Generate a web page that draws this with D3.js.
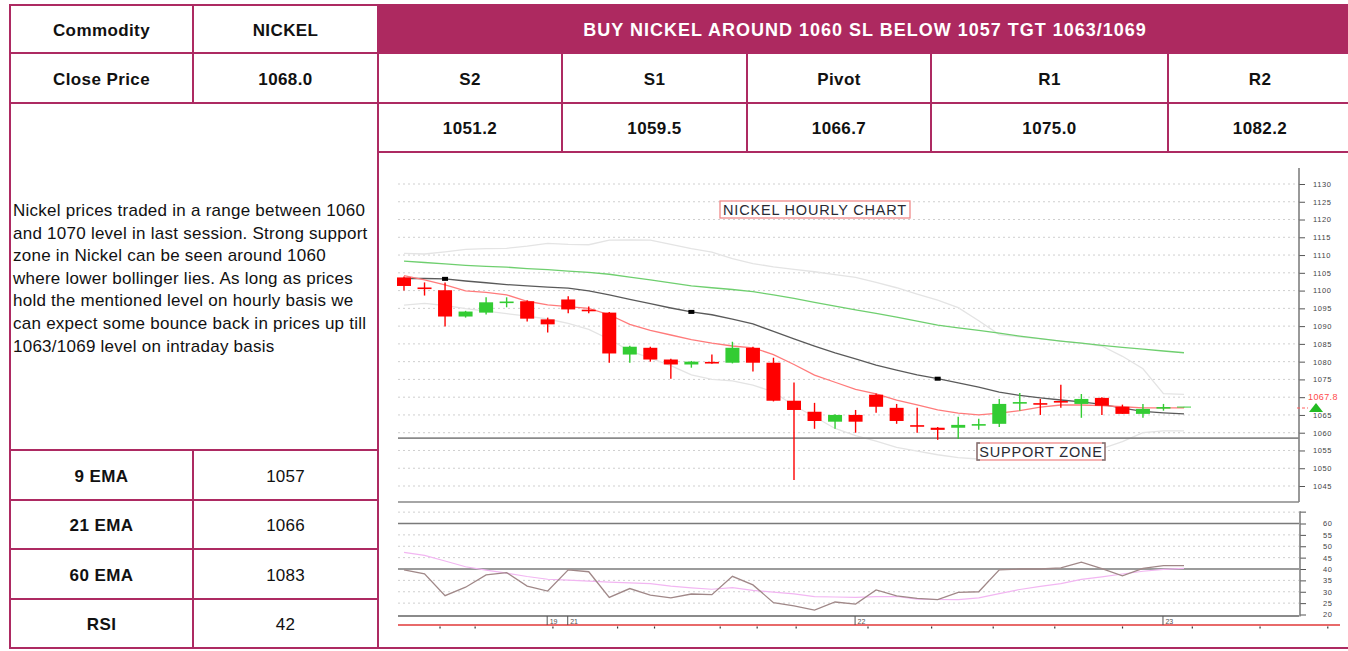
<!DOCTYPE html>
<html><head><meta charset="utf-8">
<script src="https://cdn.jsdelivr.net/npm/d3@7"></script>
<style>
body{margin:0;background:#fff;}
svg{display:block;}
text{font-family:"Liberation Sans",Arial,sans-serif;}
</style>
</head><body>
<script>
// ---------- Table content ----------
const headerLabels = ["Commodity", "NICKEL"];
const closeLabels = ["Close Price", "1068.0"];
const tradeCall = "BUY NICKEL AROUND 1060 SL BELOW 1057 TGT 1063/1069";
const pivotLabels = ["S2", "S1", "Pivot", "R1", "R2"];
const pivotValues = ["1051.2", "1059.5", "1066.7", "1075.0", "1082.2"];
const emaLabels = ["9 EMA", "21 EMA", "60 EMA", "RSI"];
const emaValues = ["1057", "1066", "1083", "42"];
const commentary = [
  "Nickel prices traded in a range between 1060",
  "and 1070 level in last session. Strong support",
  "zone in Nickel can be seen around 1060",
  "where lower bollinger lies. As long as prices",
  "hold the mentioned level on hourly basis we",
  "can expect some bounce back in prices up till",
  "1063/1069 level on intraday basis"
];

// ---------- Hourly candles ----------
const candleOpen  = [1103.7,1100.8,1100.1,1092.7,1093.8,1096.6,1097.0,1091.9,1097.5,1094.5,1093.8,1082.0,1083.9,1080.6,1079.2,1079.8,1079.7,1083.9,1079.7,1069.0,1065.9,1063.1,1065.0,1070.7,1067.0,1062.0,1061.4,1061.4,1062.1,1062.5,1068.3,1068.2,1068.8,1068.1,1069.8,1067.3,1065.3,1066.9,1067.1];
const candleHigh  = [1104.0,1102.3,1102.3,1094.3,1098.1,1098.1,1097.3,1092.4,1098.4,1095.5,1094.0,1084.5,1084.2,1080.8,1080.2,1082.0,1085.6,1084.2,1081.1,1074.1,1068.4,1065.2,1066.4,1071.0,1068.1,1067.0,1061.6,1064.5,1063.9,1069.5,1071.2,1069.5,1073.5,1070.9,1070.0,1067.9,1068.1,1068.1,1067.3];
const candleLow   = [1100.0,1098.6,1089.9,1092.4,1093.3,1095.3,1091.3,1088.2,1093.6,1093.6,1079.7,1079.7,1080.0,1075.2,1078.3,1079.4,1079.5,1077.2,1068.8,1046.7,1061.1,1061.1,1060.0,1065.6,1062.5,1060.0,1058.0,1058.2,1060.8,1061.6,1066.2,1065.0,1067.0,1064.2,1065.0,1065.3,1064.2,1066.2,1067.1];
const candleClose = [1101.3,1100.5,1092.7,1094.1,1096.7,1096.8,1092.1,1090.5,1094.7,1094.3,1082.3,1084.2,1080.6,1079.2,1080.0,1079.6,1083.9,1079.7,1069.0,1066.4,1063.3,1065.0,1063.1,1067.3,1063.3,1061.8,1060.8,1062.2,1062.3,1068.1,1068.5,1068.0,1068.6,1069.5,1067.6,1065.3,1066.7,1067.1,1067.3];

// ---------- Overlays ----------
const emaFast = [1104.2,1103.0,1101.6,1099.9,1099.5,1098.8,1097.0,1096.0,1095.5,1095.0,1093.2,1090.5,1088.8,1087.5,1086.2,1085.2,1084.4,1083.9,1082.0,1079.2,1076.2,1074.2,1072.2,1070.9,1069.2,1067.8,1066.4,1065.5,1065.0,1065.5,1066.2,1067.2,1067.8,1067.8,1067.6,1067.3,1067.0,1067.0,1067.0];
const emaMid  = [1103.4,1103.4,1103.3,1102.7,1102.2,1101.7,1101.3,1101.0,1100.7,1099.9,1098.8,1097.5,1096.3,1095.1,1094.0,1093.2,1092.0,1090.6,1088.5,1086.4,1084.4,1082.5,1080.8,1079.0,1077.6,1076.3,1075.2,1074.0,1072.8,1071.4,1070.5,1069.8,1069.2,1068.7,1068.0,1066.9,1066.0,1065.6,1065.3];
const emaSlow = [1108.3,1107.9,1107.5,1107.1,1106.8,1106.6,1106.2,1105.9,1105.5,1105.1,1104.6,1103.8,1103.0,1102.2,1101.3,1100.8,1100.3,1099.7,1098.8,1097.8,1096.7,1095.6,1094.6,1093.6,1092.5,1091.4,1090.3,1089.5,1088.8,1088.0,1087.2,1086.5,1085.8,1085.2,1084.6,1084.0,1083.5,1083.0,1082.5];
const bbUpper = [1110.5,1110.3,1110.9,1111.6,1111.8,1111.9,1112.5,1113.3,1113.0,1112.9,1114.2,1114.3,1114.2,1113.0,1111.8,1110.8,1109.0,1107.6,1106.7,1106.0,1105.3,1104.5,1103.7,1102.3,1100.8,1099.0,1097.3,1095.2,1091.5,1087.6,1087.0,1086.4,1085.8,1085.2,1084.4,1081.5,1078.0,1071.0,1070.8];
const bbLower = [1095.9,1096.4,1095.8,1094.9,1094.2,1093.5,1092.8,1092.0,1090.8,1089.1,1086.3,1083.0,1081.0,1078.9,1076.3,1075.0,1074.6,1073.4,1071.5,1067.6,1064.5,1061.2,1059.2,1057.6,1055.9,1054.8,1053.8,1053.0,1052.6,1052.6,1052.8,1053.2,1053.6,1054.4,1055.5,1057.5,1060.0,1060.5,1060.5];
const dayMarkers = [2, 14, 26];
const supportLevel = 1058.5;
const lastPrice = 1067.8;

// ---------- RSI ----------
const rsiValues = [39.6,37.9,28.3,32.0,37.4,38.4,32.5,30.3,39.6,38.8,27.5,31.4,28.5,27.3,29.0,28.7,36.8,33.0,25.2,23.8,21.9,25.5,24.6,30.8,28.2,27.1,26.5,29.7,30.0,39.6,40.0,40.0,40.5,43.0,40.2,37.0,40.3,41.5,41.5];
const rsiAvg    = [47.3,46.0,43.5,41.0,39.5,38.2,36.7,35.5,35.1,34.7,34.2,33.9,33.6,32.5,31.7,31.1,31.8,30.6,29.8,29.1,27.9,27.7,27.5,27.9,27.9,26.8,26.6,26.5,27.3,29.2,31.0,32.4,33.6,35.4,36.5,37.8,39.0,39.8,40.3];

// ---------- Axes ----------
const priceTicks = [1045,1050,1055,1060,1065,1070,1075,1080,1085,1090,1095,1100,1105,1110,1115,1120,1125,1130];
const hiddenPriceLabel = 1070; // covered by the last-price tag in the reference
const rsiTicks = [20,25,30,35,40,45,50,55,60];
const rsiLevels = [40, 60];
const dayIndex = [7, 8, 22, 37];
const dayLabels = ["19", "21", "22", "23"];
const hourTicks = [1.75,3.46,7.25,10.4,12.2,15.4,17.2,19.1,22.6,25.7,28.7,31.7,35.0,38.4,41.7,45.0];

// ================= Drawing =================
const W = 1348, H = 651;
const svg = d3.select("body").append("svg").attr("width", W).attr("height", H);
svg.append("rect").attr("width", W).attr("height", H).attr("fill", "#fff");

const BC = "#ad2a62";
const PINK = "#ad2960";

svg.append("rect").attr("x", 378).attr("y", 4).attr("width", W - 378).attr("height", 49).attr("fill", PINK);

function hline(x1, x2, yy) {
  svg.append("line").attr("x1", x1).attr("x2", x2).attr("y1", yy).attr("y2", yy)
    .attr("stroke", BC).attr("stroke-width", 2);
}
function vline(xx, y1, y2) {
  svg.append("line").attr("x1", xx).attr("x2", xx).attr("y1", y1).attr("y2", y2)
    .attr("stroke", BC).attr("stroke-width", 2);
}
hline(10, 378, 5);
hline(10, W, 53);
hline(10, W, 103);
hline(378, W, 152);
[450, 500, 549, 599].forEach(v => hline(10, 378, v));
hline(10, W, 648);
vline(10, 4, 649);
vline(193, 4, 103);
vline(193, 450, 649);
vline(378, 4, 649);
[562, 747, 931, 1168].forEach(v => vline(v, 53, 152));

function cellText(txt, cx, cy, opts = {}) {
  svg.append("text").attr("x", cx).attr("y", cy)
    .attr("text-anchor", "middle").attr("dominant-baseline", "central")
    .attr("font-size", opts.size || 17)
    .attr("font-weight", opts.weight || "bold")
    .attr("letter-spacing", opts.ls !== undefined ? opts.ls : 0.4)
    .attr("fill", opts.fill || "#111")
    .text(txt);
}
cellText(headerLabels[0], 101.5, 30);
cellText(headerLabels[1], 285.5, 30);
cellText(closeLabels[0], 101.5, 79);
cellText(closeLabels[1], 285.5, 79);
cellText(tradeCall, 865, 30, {size: 18, fill: "#fff", ls: 1.0});

const pivotEdges = [378, 562, 747, 931, 1168, 1352];
pivotLabels.forEach((t, i) => {
  const cx = (pivotEdges[i] + pivotEdges[i + 1]) / 2;
  cellText(t, cx, 79);
  cellText(pivotValues[i], cx, 128.5);
});
const emaRows = [450, 500, 549, 599, 648];
emaLabels.forEach((t, i) => {
  const cy = (emaRows[i] + emaRows[i + 1]) / 2 + 1;
  cellText(t, 101.5, cy);
  cellText(emaValues[i], 285.5, cy, {weight: "normal", ls: 0.2});
});

const para = svg.append("text").attr("font-size", 17).attr("letter-spacing", 0.25).attr("fill", "#111");
commentary.forEach((ln, i) => {
  para.append("tspan").attr("x", 13).attr("y", 216 + i * 22.6).text(ln);
});

// ---------- Chart ----------
const n = candleOpen.length;
const x = d3.scaleLinear().domain([0, n - 1]).range([404, 1184]);
const y = d3.scaleLinear().domain([1045, 1130]).range([486, 184]);
const yR = d3.scaleLinear().domain([20, 60]).range([614.5, 523.5]);
const L = 398, R = 1299;

const chart = svg.append("g");

chart.append("g").selectAll("line").data(priceTicks).join("line")
  .attr("x1", L).attr("x2", R).attr("y1", d => y(d)).attr("y2", d => y(d))
  .attr("stroke", "#cfcfcf").attr("stroke-width", 1).attr("stroke-dasharray", "2,3");

const axP = chart.append("g").attr("transform", `translate(${R},0)`)
  .call(d3.axisRight(y).tickValues(priceTicks).tickSize(6).tickPadding(8)
    .tickFormat(d => d === hiddenPriceLabel ? "" : d3.format("d")(d)));
axP.select(".domain").remove();
axP.selectAll(".tick line").attr("stroke", "#555");
axP.selectAll(".tick text").attr("font-size", 7.5).attr("fill", "#444").attr("letter-spacing", 0.6)
  .attr("font-family", "'Liberation Sans',Arial,sans-serif");
chart.append("line").attr("x1", R).attr("x2", R).attr("y1", 168).attr("y2", 502)
  .attr("stroke", "#777").attr("stroke-width", 1.5);
chart.append("line").attr("x1", L).attr("x2", R).attr("y1", 502).attr("y2", 502)
  .attr("stroke", "#888").attr("stroke-width", 1.5);

const lineGen = d3.line().x((d, i) => x(i)).y(d => y(d));
function drawLine(data, color, w) {
  chart.append("path").datum(data).attr("d", lineGen).attr("fill", "none")
    .attr("stroke", color).attr("stroke-width", w);
}
drawLine(bbUpper, "#e4e4e4", 1.3);
drawLine(bbLower, "#e4e4e4", 1.3);
drawLine(emaSlow, "#6fcf6f", 1.3);
drawLine(emaMid, "#5a5a5a", 1.3);
drawLine(emaFast, "#ff7b7b", 1.3);

chart.append("g").selectAll("rect").data(dayMarkers).join("rect")
  .attr("x", d => x(d) - 3).attr("y", d => y(emaMid[d]) - 2)
  .attr("width", 6).attr("height", 4).attr("fill", "#000");

chart.append("line").attr("x1", L).attr("x2", R).attr("y1", y(supportLevel)).attr("y2", y(supportLevel))
  .attr("stroke", "#8a8a8a").attr("stroke-width", 1.8);

const bw = 14;
const cg = chart.append("g");
d3.range(n).forEach(i => {
  const o = candleOpen[i], c = candleClose[i], h = candleHigh[i], l = candleLow[i];
  const col = c >= o ? "#33cc33" : "#ff0000";
  const op = i === n - 1 ? 0.6 : 1;
  cg.append("line").attr("x1", x(i)).attr("x2", x(i)).attr("y1", y(h)).attr("y2", y(l))
    .attr("stroke", col).attr("stroke-width", 1.4).attr("opacity", op);
  const top = y(Math.max(o, c)), bot = y(Math.min(o, c));
  const hh = Math.max(1.6, bot - top);
  cg.append("rect").attr("x", x(i) - bw / 2).attr("y", (top + bot) / 2 - hh / 2)
    .attr("width", bw).attr("height", hh).attr("fill", col).attr("opacity", op);
});

// last price tag
chart.append("line").attr("x1", 1297).attr("x2", 1308).attr("y1", y(lastPrice) + 3).attr("y2", y(lastPrice) + 3)
  .attr("stroke", "#ff6060").attr("stroke-width", 1.2).attr("stroke-dasharray", "3,2");
chart.append("text").attr("x", 1308).attr("y", y(lastPrice) - 8).attr("font-size", 9)
  .attr("letter-spacing", 0.4)
  .attr("fill", "#ff4a4a").attr("dominant-baseline", "central").text(lastPrice.toFixed(1));
chart.append("path")
  .attr("d", `M1309,${y(lastPrice) + 7} L1316,${y(lastPrice) - 2} L1323,${y(lastPrice) + 7} Z`)
  .attr("fill", "#22bb22");

function labelBox(txt, x0, y0, w, h, brackets) {
  const g = chart.append("g");
  g.append("rect").attr("x", x0).attr("y", y0).attr("width", w).attr("height", h)
    .attr("fill", "#fff").attr("stroke", "#f08a8a").attr("stroke-width", 1.3);
  if (brackets) {
    g.append("path").attr("d", `M${x0 + 3},${y0} L${x0},${y0} L${x0},${y0 + h} L${x0 + 3},${y0 + h}`)
      .attr("fill", "none").attr("stroke", "#777").attr("stroke-width", 1.3);
    g.append("path").attr("d", `M${x0 + w - 3},${y0} L${x0 + w},${y0} L${x0 + w},${y0 + h} L${x0 + w - 3},${y0 + h}`)
      .attr("fill", "none").attr("stroke", "#777").attr("stroke-width", 1.3);
  }
  g.append("text").attr("x", x0 + w / 2).attr("y", y0 + h / 2 + 0.5).attr("text-anchor", "middle")
    .attr("dominant-baseline", "central").attr("font-size", 14.5).attr("letter-spacing", 0.8)
    .attr("fill", "#2a2a33").text(txt);
}
labelBox("NICKEL HOURLY CHART", 720, 201, 190, 17, false);
labelBox("SUPPORT ZONE", 977, 443, 128, 17, true);

// ---------- RSI panel ----------
const rsiGrid = [25, 30, 35, 45, 50, 55, 65];
chart.append("g").selectAll("line").data(rsiGrid).join("line")
  .attr("x1", L).attr("x2", R).attr("y1", d => yR(d)).attr("y2", d => yR(d))
  .attr("stroke", "#cfcfcf").attr("stroke-width", 1).attr("stroke-dasharray", "2,3");
chart.append("g").selectAll("line").data(rsiLevels).join("line")
  .attr("x1", L).attr("x2", R).attr("y1", d => yR(d)).attr("y2", d => yR(d))
  .attr("stroke", "#7a7a7a").attr("stroke-width", 1.5);
chart.append("line").attr("x1", L).attr("x2", R).attr("y1", yR(20) + 1.5).attr("y2", yR(20) + 1.5)
  .attr("stroke", "#8a8a8a").attr("stroke-width", 2);

const axR = chart.append("g").attr("transform", `translate(${R + 1},0)`)
  .call(d3.axisRight(yR).tickValues(rsiTicks).tickSize(6).tickPadding(17).tickFormat(d3.format("d")));
axR.select(".domain").remove();
axR.selectAll(".tick line").attr("stroke", "#555");
axR.selectAll(".tick text").attr("font-size", 7.5).attr("fill", "#444").attr("letter-spacing", 0.6)
  .attr("font-family", "'Liberation Sans',Arial,sans-serif");
chart.append("line").attr("x1", R + 1).attr("x2", R + 7).attr("y1", yR(65)).attr("y2", yR(65)).attr("stroke", "#555");
chart.append("line").attr("x1", R + 1).attr("x2", R + 1).attr("y1", yR(65) - 1).attr("y2", yR(20) + 2)
  .attr("stroke", "#777").attr("stroke-width", 1.5);

const rsiLine = d3.line().x((d, i) => x(i)).y(d => yR(d));
chart.append("path").datum(rsiAvg).attr("d", rsiLine).attr("fill", "none")
  .attr("stroke", "#f2b6f2").attr("stroke-width", 1.2);
chart.append("path").datum(rsiValues).attr("d", rsiLine).attr("fill", "none")
  .attr("stroke", "#a08888").attr("stroke-width", 1.3);

chart.append("line").attr("x1", L).attr("x2", 1340).attr("y1", 625).attr("y2", 625)
  .attr("stroke", "#e86a6a").attr("stroke-width", 2);
dayIndex.forEach((d, i) => {
  chart.append("line").attr("x1", x(d) - 0.5).attr("x2", x(d) - 0.5).attr("y1", 616).attr("y2", 625)
    .attr("stroke", "#555").attr("stroke-width", 1);
  chart.append("text").attr("x", x(d) + 2).attr("y", 621).attr("font-size", 7)
    .attr("fill", "#555").attr("dominant-baseline", "central").text(dayLabels[i]);
});
chart.append("g").selectAll("rect").data(hourTicks).join("rect")
  .attr("x", d => x(d) - 0.5).attr("y", 626.5).attr("width", 1.2).attr("height", 2).attr("fill", "#333");
</script>
</body></html>
